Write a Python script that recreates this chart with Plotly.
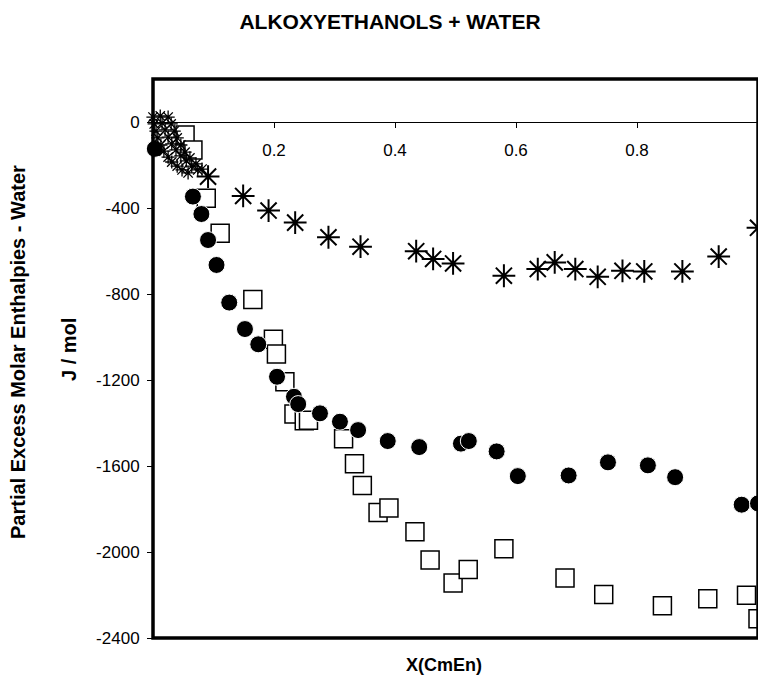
import plotly.graph_objects as go

# ---- data ----
x_tick_vals = [0.2, 0.4, 0.6, 0.8]
x_tick_text = ["0.2", "0.4", "0.6", "0.8"]
y_tick_vals = [0, -400, -800, -1200, -1600, -2000, -2400]
y_tick_text = ["0", "-400", "-800", "-1200", "-1600", "-2000", "-2400"]

# squares (open)
sq_x = [0.053, 0.066, 0.088, 0.111, 0.165, 0.199, 0.204, 0.218, 0.233, 0.250, 0.257,
        0.315, 0.333, 0.346, 0.372, 0.390, 0.433, 0.458, 0.496, 0.521, 0.580, 0.681,
        0.745, 0.842, 0.917, 0.981, 1.000]
sq_y = [-60, -130, -355, -518, -825, -1011, -1079, -1208, -1358, -1389, -1387,
        -1473, -1590, -1691, -1816, -1795, -1906, -2037, -2144, -2081, -1985, -2121,
        -2198, -2250, -2217, -2201, -2311]

# filled circles
ci_x = [0.003, 0.066, 0.080, 0.091, 0.105, 0.126, 0.152, 0.174, 0.205, 0.233, 0.240,
        0.276, 0.309, 0.339, 0.388, 0.440, 0.509, 0.522, 0.568, 0.603, 0.687, 0.752,
        0.818, 0.863, 0.973, 1.000]
ci_y = [-125, -347, -428, -549, -665, -840, -963, -1034, -1185, -1278, -1312,
        -1355, -1394, -1433, -1484, -1512, -1496, -1484, -1532, -1647, -1644, -1583,
        -1597, -1652, -1780, -1774]

# asterisks
st_x = [0.091, 0.149, 0.191, 0.235, 0.290, 0.343, 0.435, 0.463, 0.496, 0.580, 0.636,
        0.664, 0.698, 0.735, 0.776, 0.812, 0.875, 0.935, 1.000]
st_y = [-254, -344, -412, -468, -536, -580, -601, -637, -658, -715, -684,
        -653, -684, -720, -692, -695, -695, -626, -492]

# dense asterisk cluster near the origin
stc_x = [0.000, 0.002, 0.005, 0.008, 0.013, 0.018, 0.025, 0.031, 0.040, 0.048, 0.058,
         0.012, 0.015, 0.020, 0.025, 0.031, 0.038, 0.046, 0.055, 0.064, 0.074,
         0.025, 0.030, 0.035, 0.040, 0.046, 0.053, 0.061, 0.071, 0.081]
stc_y = [23, -9, -42, -74, -107, -135, -163, -186, -205, -223, -237,
         28, -5, -37, -70, -102, -130, -158, -181, -205, -223,
         23, -9, -42, -74, -107, -140, -167, -195, -219]

x_range = [0, 1]
y_range = [-2400, 200]

FONT = "Liberation Sans, Arial, sans-serif"
W, H = 758, 681  # page adds an 8px body margin

fig = go.Figure()
fig.add_trace(go.Scatter(
    x=sq_x, y=sq_y, mode="markers", cliponaxis=False,
    marker=dict(symbol="square", size=18, color="white",
                line=dict(color="black", width=1.5)),
    showlegend=False))
fig.add_trace(go.Scatter(
    x=ci_x, y=ci_y, mode="markers", cliponaxis=False,
    marker=dict(symbol="circle", size=17, color="black",
                line=dict(color="white", width=1)),
    showlegend=False))
fig.add_trace(go.Scatter(
    x=stc_x, y=stc_y, mode="markers", cliponaxis=False,
    marker=dict(symbol="asterisk-open", size=11, color="black",
                line=dict(color="black", width=1.3)),
    showlegend=False))
fig.add_trace(go.Scatter(
    x=st_x, y=st_y, mode="markers", cliponaxis=False,
    marker=dict(symbol="asterisk-open", size=19, color="black",
                line=dict(color="black", width=2)),
    showlegend=False))

zero_pos = (0 - y_range[0]) / (y_range[1] - y_range[0])

fig.update_layout(
    width=W, height=H,
    margin=dict(l=145, r=8, t=71, b=51),
    paper_bgcolor="white", plot_bgcolor="white",
    font=dict(family=FONT, color="black"),
    title=dict(text="<b>ALKOXYETHANOLS + WATER</b>", x=382 / W, xref="container",
               xanchor="center", y=1 - 14 / H, yanchor="middle",
               font=dict(size=21, family=FONT, color="black")),
    xaxis=dict(range=x_range, showgrid=False, zeroline=False,
               anchor="free", position=zero_pos, automargin=False,
               showline=True, linecolor="black", linewidth=1,
               ticks="outside", ticklen=5, tickcolor="black",
               tickvals=x_tick_vals, ticktext=x_tick_text,
               tickfont=dict(size=17, family=FONT), ticklabelstandoff=8),
    yaxis=dict(range=y_range, showgrid=False, zeroline=False, showline=False,
               automargin=False,
               ticks="outside", ticklen=5, tickcolor="black",
               tickvals=y_tick_vals, ticktext=y_tick_text,
               tickfont=dict(size=17, family=FONT), ticklabelstandoff=4),
    shapes=[dict(type="rect", xref="paper", yref="paper", x0=0, x1=1, y0=0, y1=1,
                 line=dict(color="black", width=3.5), layer="above")],
    annotations=[
        dict(text="<b>X(CmEn)</b>", xref="paper", yref="paper",
             x=(444 - 153) / 605, y=(638 - 665) / 559, showarrow=False,
             xanchor="center", yanchor="middle", font=dict(size=18, family=FONT)),
        dict(text="<b>Partial Excess Molar Enthalpies - Water</b>", xref="paper",
             yref="paper", x=(18 - 153) / 605, y=(638 - 352) / 559, textangle=-90,
             showarrow=False, xanchor="center", yanchor="middle",
             font=dict(size=20, family=FONT)),
        dict(text="<b>J / mol</b>", xref="paper", yref="paper",
             x=(69 - 153) / 605, y=(638 - 350) / 559, textangle=-90,
             showarrow=False, xanchor="center", yanchor="middle",
             font=dict(size=20, family=FONT)),
    ],
)

fig.write_html("out.html")
